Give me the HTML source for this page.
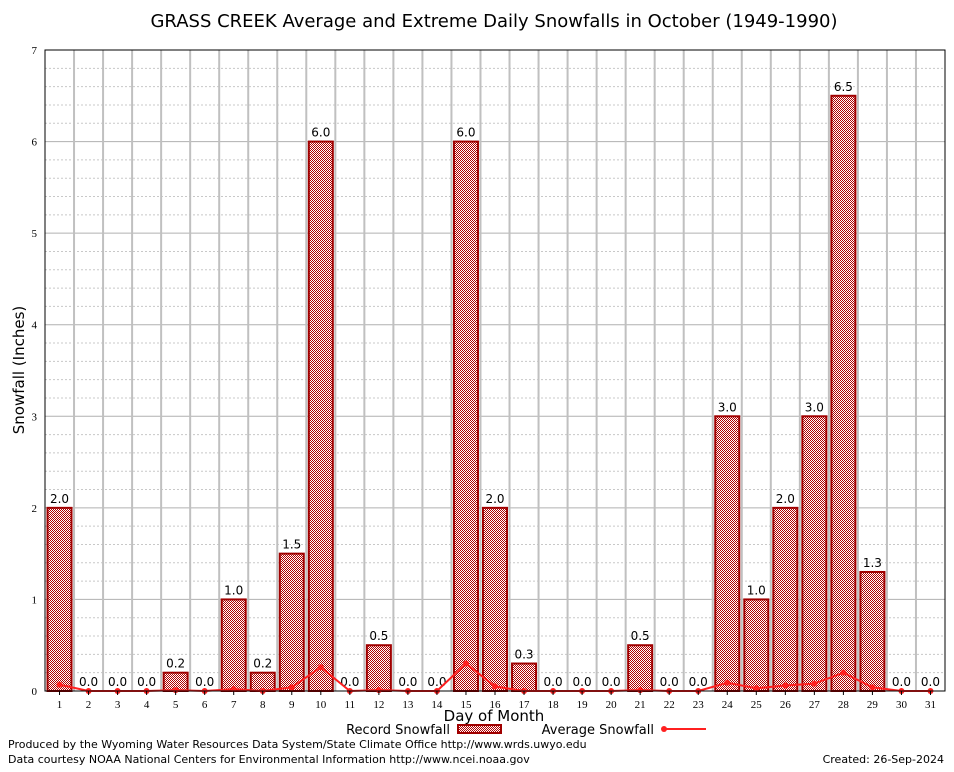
<!DOCTYPE html>
<html><head><meta charset="utf-8"><style>
body{margin:0;background:#fff;font-family:"DejaVu Sans","Liberation Sans",sans-serif}
</style></head><body>
<svg id="chart" width="954" height="768" xmlns="http://www.w3.org/2000/svg" font-family="DejaVu Sans, Liberation Sans, sans-serif">
<defs>
<pattern id="hatch" width="2" height="2" patternUnits="userSpaceOnUse">
<rect width="2" height="2" fill="#fff"/>
<rect x="0" y="0" width="1" height="1" fill="#b00000"/>
<rect x="1" y="1" width="1" height="1" fill="#b00000"/>
</pattern>
</defs>
<rect x="0" y="0" width="954" height="768" fill="#fff"/>
<text x="494" y="27" text-anchor="middle" font-size="18">GRASS CREEK Average and Extreme Daily Snowfalls in October (1949-1990)</text>
<g id="grid"></g>
<g id="bars"></g>
<g id="avg"></g>
<g id="axes"></g>
<text transform="translate(24,370) rotate(-90)" text-anchor="middle" font-size="15">Snowfall (Inches)</text>
<text x="494" y="721" text-anchor="middle" font-size="15">Day of Month</text>
<g>
<text x="450" y="734" text-anchor="end" font-size="13">Record Snowfall</text>
<rect x="458" y="725" width="43" height="8" fill="url(#hatch)" stroke="#a00000" stroke-width="2"/>
</g>
<g>
<text x="654" y="734" text-anchor="end" font-size="13">Average Snowfall</text>
<line x1="664" y1="729" x2="706" y2="729" stroke="#ff2020" stroke-width="2"/>
<circle cx="664" cy="729" r="3" fill="#ff2020"/>
</g>
<text x="8" y="748" font-size="11">Produced by the Wyoming Water Resources Data System/State Climate Office http://www.wrds.uwyo.edu</text>
<text x="8" y="763" font-size="11">Data courtesy NOAA National Centers for Environmental Information http://www.ncei.noaa.gov</text>
<text x="944" y="763" text-anchor="end" font-size="11">Created: 26-Sep-2024</text>
</svg>
<script>
const days=[1,2,3,4,5,6,7,8,9,10,11,12,13,14,15,16,17,18,19,20,21,22,23,24,25,26,27,28,29,30,31];
const recordSnow=[2.0,0,0,0,0.2,0,1.0,0.2,1.5,6.0,0,0.5,0,0,6.0,2.0,0.3,0,0,0,0.5,0,0,3.0,1.0,2.0,3.0,6.5,1.3,0,0];
const avgSnow=[0.07,0,0,0,0.01,0,0.02,0,0.04,0.26,0,0.01,0,0,0.3,0.05,0,0,0,0,0.01,0,0,0.09,0.03,0.06,0.08,0.2,0.04,0,0];
const yTicks=[0,1,2,3,4,5,6,7];
const NS="http://www.w3.org/2000/svg";
const L=45,R=945,T=50,B=691,yMax=7;
const slot=(R-L)/days.length;
const xc=d=>L+(d-0.5)*slot;
const ys=v=>B-v/yMax*(B-T);
function mk(tag,attrs,parent){const e=document.createElementNS(NS,tag);for(const k in attrs)e.setAttribute(k,attrs[k]);parent.appendChild(e);return e;}
const grid=document.getElementById('grid'),bars=document.getElementById('bars'),avg=document.getElementById('avg'),axes=document.getElementById('axes');
for(let v=0.2;v<yMax;v+=0.2){const isMajor=Math.abs(v-Math.round(v))<1e-6;
const ln=mk('line',{x1:L,x2:R,y1:ys(v),y2:ys(v),stroke:isMajor?'#b0b0b0':'#c8c8c8','stroke-width':1,'stroke-dasharray':isMajor?'':'2,2'},grid);

}
for(let i=1;i<days.length;i++){const x=L+i*slot;
const ln=mk('line',{x1:x,x2:x,y1:T,y2:B,stroke:'#c0c0c0','stroke-width':2},grid);

}
days.forEach((d,i)=>{const v=recordSnow[i];
if(v>0){const r=mk('rect',{x:xc(d)-12,y:ys(v),width:24,height:B-ys(v),fill:'url(#hatch)',stroke:'#a00000','stroke-width':2},bars);

}
const t=mk('text',{x:xc(d),y:ys(v)-5,'text-anchor':'middle','font-size':12},bars);t.textContent=v.toFixed(1);


const tl=mk('text',{x:xc(d),y:B+17,'text-anchor':'middle','font-size':11,'font-family':'Liberation Serif, serif'},axes);tl.textContent=d;


mk('line',{x1:xc(d),x2:xc(d),y1:B,y2:B+4,stroke:'#000'},axes);});
const pts=days.map((d,i)=>xc(d)+','+ys(avgSnow[i])).join(' ');
const pl=mk('polyline',{points:pts,fill:'none',stroke:'#ff2020','stroke-width':2},avg);


days.forEach((d,i)=>{const c=mk('circle',{cx:xc(d),cy:ys(avgSnow[i]),r:3,fill:'#ff2020'},avg);

});
yTicks.forEach(v=>{const t=mk('text',{x:L-8,y:ys(v)+4,'text-anchor':'end','font-size':11,'font-family':'Liberation Serif, serif'},axes);t.textContent=v;

});
const fr=mk('rect',{x:L,y:T,width:R-L,height:B-T,fill:'none',stroke:'#000','stroke-width':1},axes);


</script>
</body></html>
